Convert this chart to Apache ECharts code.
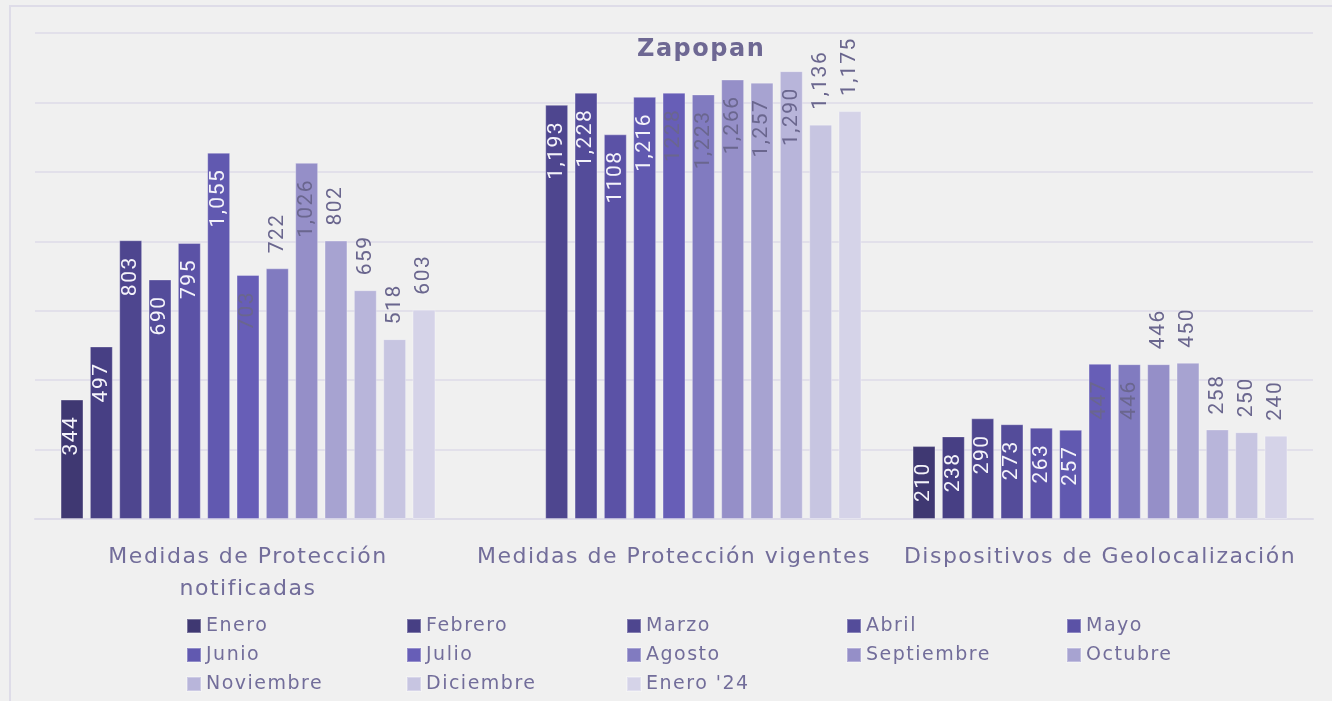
<!DOCTYPE html>
<html>
<head>
<meta charset="utf-8">
<script src="https://cdn.jsdelivr.net/npm/echarts@6/dist/echarts.min.js"></script>
<style>
html, body { margin: 0; padding: 0; background: #f0f0f0; }
#chart { width: 1332px; height: 701px; }
</style>
</head>
<body>
<div id="chart"></div>
<script>
// categories and monthly series
const categories = ['Medidas de Protección\nnotificadas', 'Medidas de Protección vigentes', 'Dispositivos de Geolocalización']
const months = ['Enero', 'Febrero', 'Marzo', 'Abril', 'Mayo', 'Junio', 'Julio', 'Agosto', 'Septiembre', 'Octubre', 'Noviembre', 'Diciembre', "Enero '24"]
const notificadas = [344, 497, 803, 690, 795, 1055, 703, 722, 1026, 802, 659, 518, 603]
const vigentes = [null, null, 1193, 1228, 1108, 1216, 1228, 1223, 1266, 1257, 1290, 1136, 1175]
const geolocalizacion = [210, 238, 290, 273, 263, 257, 447, 446, 446, 450, 258, 250, 240]

const monthColors = ['#3f3872', '#473f84', '#4e468f', '#544c9a', '#5b52a6', '#6159b0', '#675eb7',
  '#817bc0', '#958fc8', '#a7a3d1', '#b8b5da', '#c7c5e1', '#d5d3e8']

// [month, category] cells whose label sits above the bar
const outsideLabels = [[7, 0], [8, 2], [9, 0], [9, 2], [10, 0], [10, 2], [11, 0], [11, 1], [11, 2], [12, 0], [12, 1], [12, 2]]
// cells printed without thousands separator
const plainLabels = [[4, 1], [6, 1]]

const TEXT = '#726d9a'
const FONT = 'DejaVu Sans'
const hasCell = (list, i, j) => list.some(c => c[0] === i && c[1] === j)
const columns = [notificadas, vigentes, geolocalizacion]

let chart = echarts.init(document.getElementById('chart'))

let series = months.map((m, i) => ({
  name: m,
  type: 'bar',
  barGap: '28%',
  barCategoryGap: '12%',
  itemStyle: { color: monthColors[i], borderColor: 'rgba(255,255,255,0.3)', borderWidth: 1 },
  data: categories.map((c, j) => {
    let v = columns[j][i]
    if (v == null) return null
    let out = hasCell(outsideLabels, i, j)
    return {
      value: v,
      label: {
        show: true,
        rotate: 90,
        position: out ? 'top' : 'insideTop',
        align: out ? 'left' : 'right',
        verticalAlign: 'middle',
        distance: out ? 15 : 16,
        fontFamily: 'Roboto',
        fontSize: 21,
        color: (out || i >= 6) ? '#6a668e' : '#f4f3fa',
        formatter: p => hasCell(plainLabels, i, j) ? String(p.value) : p.value.toLocaleString('en-US')
      }
    }
  })
}))

let chartOpt = {
  animation: false,
  backgroundColor: '#f0f0f0',
  color: monthColors,
  title: {
    text: 'Zapopan',
    left: 637,
    top: 38,
    padding: 0,
    textStyle: { fontFamily: FONT, fontWeight: 'bold', fontSize: 24, color: '#6e6893' }
  },
  graphic: [{
    type: 'rect',
    silent: true,
    z: -10,
    shape: { x: 10, y: 6, width: 1400, height: 800 },
    style: { fill: null, stroke: '#dedce8', lineWidth: 2 }
  }],
  legend: {
    data: months,
    left: 186,
    top: 615,
    width: 1100,
    padding: 0,
    itemWidth: 14,
    itemHeight: 14,
    itemGap: 7,
    icon: 'rect',
    textStyle: { fontFamily: FONT, fontSize: 19, color: TEXT, width: 193, lineHeight: 22 }
  },
  grid: { left: 35, right: 19, top: 33, bottom: 182 },
  xAxis: {
    type: 'category',
    data: categories,
    axisTick: { show: false },
    axisLine: { lineStyle: { color: '#dedce8', width: 2 } },
    axisLabel: { interval: 0, hideOverlap: false, fontFamily: FONT, fontSize: 22, color: TEXT, margin: 22, lineHeight: 32 }
  },
  yAxis: {
    type: 'value',
    min: 0,
    max: 1400,
    interval: 200,
    axisLabel: { show: false },
    axisLine: { show: false },
    axisTick: { show: false },
    splitLine: { lineStyle: { color: '#e2e0ea', width: 2 } }
  },
  series: series
}

chart.setOption(chartOpt)
chart.getZr().refreshImmediately()
// the source font is widely tracked: widen letters on the drawn canvas, then repaint
let cv = document.querySelector('#chart canvas')
if (cv) {
  cv.getContext('2d').letterSpacing = '1.5px'
  chart.clear()
  chart.setOption(chartOpt)
}
</script>
</body>
</html>
